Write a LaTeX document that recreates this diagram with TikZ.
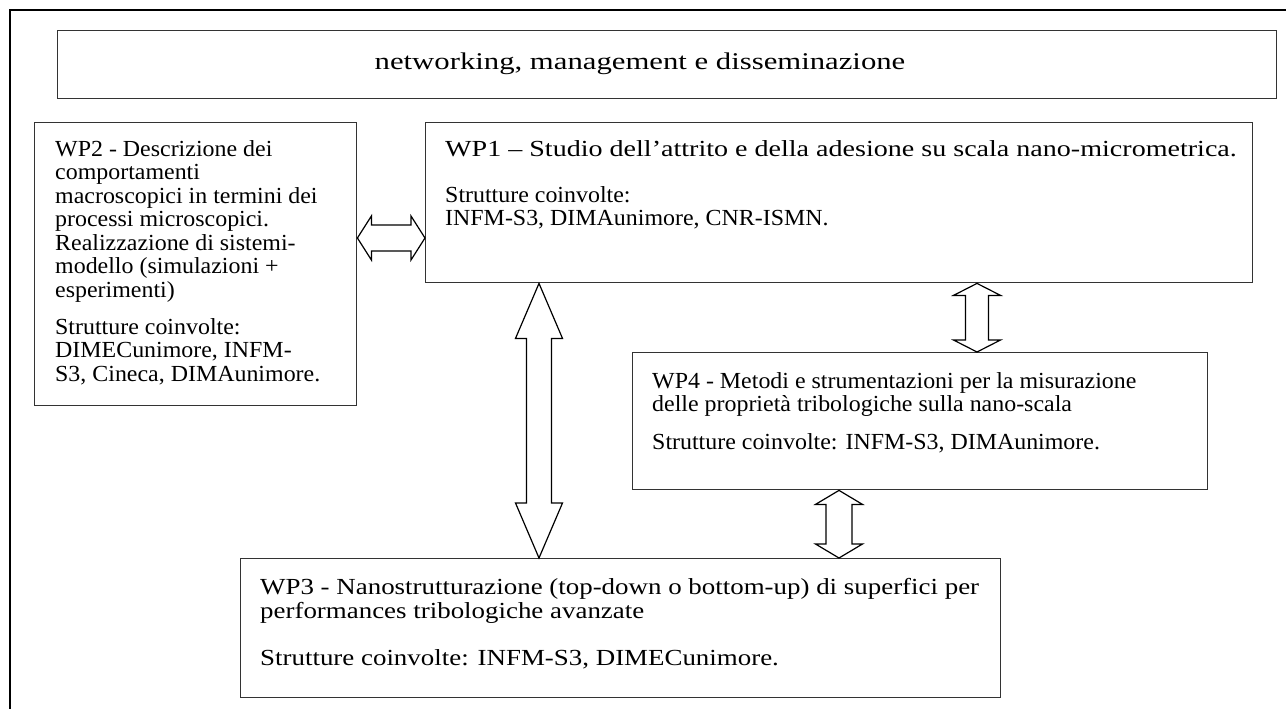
\documentclass[tikz,border=0pt]{standalone}
\usepackage{fontspec}
\setmainfont{Liberation Serif}
\newfontfamily\wpfont[FakeStretch=1.04]{Liberation Serif}
\newfontfamily\wpwidefont[FakeStretch=1.17]{Liberation Serif}
\newfontfamily\wptitlefont[FakeStretch=1.22]{Liberation Serif}
\newfontfamily\netfont[FakeStretch=1.28]{Liberation Serif}
\usetikzlibrary{calc}
\tikzset{
  wpbox/.style={draw=black!80, line width=1.4pt, inner sep=0pt, anchor=north west},
  wptext/.style={anchor=north west, inner sep=0pt, align=left, font=\wpfont\fontsize{23}{23.5}\selectfont},
  darrow/.style={draw=black, line width=1.2pt, fill=white, line join=miter},
}
% double arrows: start point, end point, shaft half width, head half width, head length
\newcommand{\vdarrow}[5]{%
  \draw[darrow] let \p1=(#1), \p2=(#2) in
    (\x1,\y1) -- (\x1+#4,\y1-#5) -- (\x1+#3,\y1-#5) -- (\x1+#3,\y2+#5) -- (\x1+#4,\y2+#5)
    -- (\x1,\y2) -- (\x1-#4,\y2+#5) -- (\x1-#3,\y2+#5) -- (\x1-#3,\y1-#5) -- (\x1-#4,\y1-#5) -- cycle;}
\newcommand{\hdarrow}[5]{%
  \draw[darrow] let \p1=(#1), \p2=(#2) in
    (\x1,\y1) -- (\x1+#5,\y1+#4) -- (\x1+#5,\y1+#3) -- (\x2-#5,\y1+#3) -- (\x2-#5,\y1+#4)
    -- (\x2,\y1) -- (\x2-#5,\y1-#4) -- (\x2-#5,\y1-#3) -- (\x1+#5,\y1-#3) -- (\x1+#5,\y1-#4) -- cycle;}
\begin{document}
\begin{tikzpicture}[x=1pt,y=-1pt]
  \useasboundingbox (0,0) rectangle (1286,709);
  \fill[white] (0,0) rectangle (1286,709);
  \draw[line width=2.5pt] (10,709) -- (10,10) -- (1286,10);
  % boxes
  \node[wpbox, minimum width=1219pt, minimum height=68pt] (net) at (57,30) {};
  \node[wpbox, minimum width=322pt, minimum height=283pt] (wp2) at (34,122) {};
  \node[wpbox, minimum width=827pt, minimum height=160pt] (wp1) at (425,122) {};
  \node[wpbox, minimum width=575pt, minimum height=137pt] (wp4) at (632,352) {};
  \node[wpbox, minimum width=760pt, minimum height=139pt] (wp3) at (240,558) {};
  % texts
  \node[wptext, anchor=center, font=\netfont\fontsize{24}{28}\selectfont] (nettxt) at (640,64)
    {networking, management e disseminazione};
  \node[wptext] (wp2txt) at (55,140) {WP2 - Descrizione dei\\ comportamenti\\ macroscopici in termini dei\\
    processi microscopici.\\ Realizzazione di sistemi-\\ modello (simulazioni +\\ esperimenti)\\[13.5pt]
    Strutture coinvolte:\\ DIMECunimore, INFM-\\ S3, Cineca, DIMAunimore.};
  \node[wptext] (wp1txt) at (445,140) {{\wptitlefont WP1 – Studio dell’attrito e della adesione su scala nano-micrometrica.}\\[22.5pt]
    Strutture coinvolte:\\ INFM-S3, DIMAunimore, CNR-ISMN.};
  \node[wptext] (wp4txt) at (652,372) {WP4 - Metodi e strumentazioni per la misurazione\\
    delle proprietà tribologiche sulla nano-scala\\[14.5pt] Strutture coinvolte: INFM-S3, DIMAunimore.};
  \node[wptext, font=\wpwidefont\fontsize{23}{24}\selectfont] (wp3txt) at (260,578)
    {WP3 - Nanostrutturazione (top-down o bottom-up) di superfici per\\
    performances tribologiche avanzate\\[23pt] Strutture coinvolte: INFM-S3, DIMECunimore.};
  % arrows
  \coordinate (hy) at (0,238);
  \coordinate (v1x) at (539,0);
  \coordinate (v2x) at (977,0);
  \coordinate (v3x) at (839,0);
  \hdarrow{wp2.east |- hy}{wp1.west |- hy}{13pt}{22pt}{14pt}
  \vdarrow{wp1.south -| v1x}{wp3.north -| v1x}{12.5pt}{23.5pt}{55pt}
  \vdarrow{wp1.south -| v2x}{wp4.north -| v2x}{11.5pt}{23.5pt}{12pt}
  \vdarrow{wp4.south -| v3x}{wp3.north -| v3x}{13pt}{23.5pt}{14pt}
\end{tikzpicture}
\end{document}
